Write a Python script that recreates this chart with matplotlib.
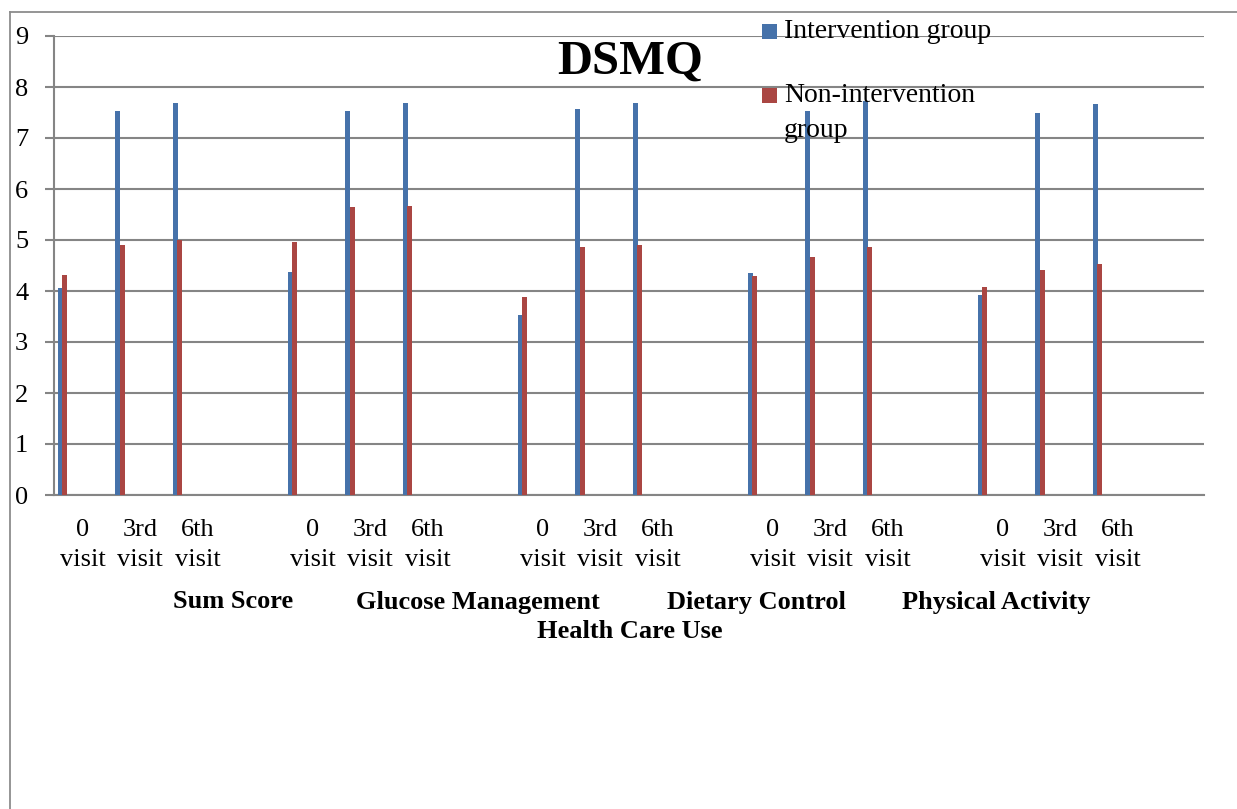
import matplotlib
matplotlib.use("Agg")
import matplotlib.pyplot as plt
from matplotlib.patches import Rectangle
from matplotlib.lines import Line2D
import numpy as np

# DSMQ scores per domain and visit
groups = ["Sum Score", "Glucose Management", "Dietary Control",
          "Physical Activity", "Health Care Use"]
visits = ["0\nvisit", "3rd\nvisit", "6th\nvisit"]
intervention = [4.05, 7.53, 7.68,
                4.37, 7.52, 7.69,
                3.53, 7.57, 7.69,
                4.36, 7.53, 7.72,
                3.93, 7.50, 7.67]
non_intervention = [4.31, 4.91, 5.00,
                    4.96, 5.65, 5.67,
                    3.88, 4.86, 4.91,
                    4.29, 4.67, 4.86,
                    4.08, 4.42, 4.52]
series_names = ["Intervention group", "Non-intervention\ngroup"]
series_colors = ["#4672AA", "#AA4643"]

W, H = 1237, 809
fig = plt.figure(figsize=(W / 100, H / 100), dpi=100)
fig.patch.set_facecolor("white")
plt.rcParams["font.family"] = ["Liberation Serif", "DejaVu Serif"]

ax_l, ax_r, ax_b, ax_t = 54, 1204, 495, 36
ax = fig.add_axes([ax_l / W, 1 - ax_b / H, (ax_r - ax_l) / W, (ax_b - ax_t) / H])

# each domain takes four category slots; the fourth slot stays empty
slots_per_group = len(visits) + 1
n_slots = slots_per_group * len(groups)
pos = np.array([g * slots_per_group + k for g in range(len(groups))
                for k in range(len(visits))], dtype=float)

bar_w = 0.085
ax.bar(pos - 0.5 + 0.108, intervention, width=bar_w, color=series_colors[0],
       zorder=3, linewidth=0)
ax.bar(pos - 0.5 + 0.19, non_intervention, width=bar_w, color=series_colors[1],
       zorder=3, linewidth=0)

ax.set_xlim(-0.5, n_slots - 0.5)
ax.set_ylim(0, 9)
ax.set_yticks(range(0, 10))
ax.yaxis.grid(True, color="#858585", linewidth=1.5, zorder=0)
ax.set_axisbelow(True)

ax.set_xticks(pos)
ax.set_xticklabels(visits * len(groups))
for t in ax.get_xticklabels():
    t.set_linespacing(1.48)
ax.tick_params(axis="x", length=0, pad=17, labelsize=19, colors="black")
ax.tick_params(axis="y", length=6.5, width=1.5, pad=12, labelsize=19,
               color="#858585", labelcolor="black")

for s in ["top", "right"]:
    ax.spines[s].set_visible(False)
for s in ["left", "bottom"]:
    ax.spines[s].set_color("#858585")
    ax.spines[s].set_linewidth(1.5)

# title
fig.text(630 / W, 1 - 62 / H, "DSMQ", ha="center", va="center",
         fontsize=35, fontweight="bold")

# wrapped axis title with the domain names
title_x = [233, 478, 756, 996, 629.5]
title_y = [602, 602, 602, 602, 632]
for name, x, y in zip(groups, title_x, title_y):
    fig.text(x / W, 1 - y / H, name, ha="center", va="center",
             fontsize=19, fontweight="bold")

# legend entries in the upper right
leg_y = [31.5, 95.5]
for name, col, y in zip(series_names, series_colors, leg_y):
    fig.add_artist(Rectangle((762 / W, 1 - (y + 7.5) / H), 15 / W, 15 / H,
                             transform=fig.transFigure, facecolor=col,
                             edgecolor="none"))
    first, *rest = name.split("\n")
    fig.text(784 / W, 1 - y / H, first, ha="left", va="center", fontsize=20)
    for i, line in enumerate(rest, start=1):
        fig.text(784 / W, 1 - (y + 35 * i) / H, line, ha="left", va="center",
                 fontsize=20)

# chart frame (top and left edges)
fig.add_artist(Line2D([10 / W, 1], [1 - 12 / H, 1 - 12 / H],
                      transform=fig.transFigure, color="#8c8c8c", linewidth=1.3))
fig.add_artist(Line2D([10 / W, 10 / W], [0, 1 - 12 / H],
                      transform=fig.transFigure, color="#8c8c8c", linewidth=1.3))

fig.savefig("out.png", dpi=100, facecolor="white")
